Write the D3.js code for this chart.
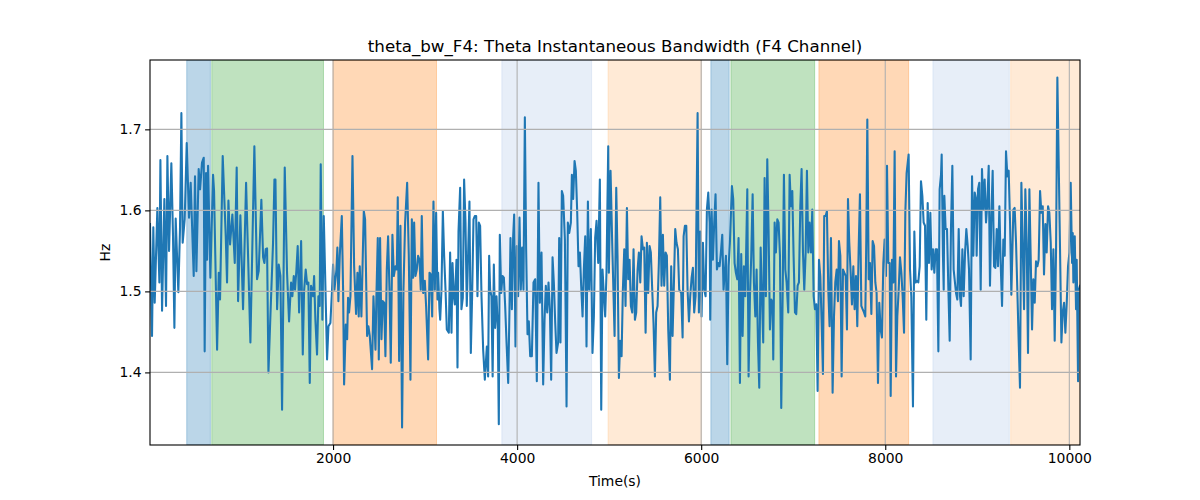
<!DOCTYPE html>
<html>
<head>
<meta charset="utf-8">
<script src="https://cdn.jsdelivr.net/npm/d3@7"></script>
<style>
  html, body { margin: 0; padding: 0; background: #fff; }
  svg { display: block; font-family: "DejaVu Sans", sans-serif; }
</style>
</head>
<body>
<svg id="chart" width="1200" height="500"></svg>
<script>
// ---- data ----
const time = [
  11,33,47,62,91,113,124,142,167,185,200,218,243,261,276,290,319,337,352,366,388,410,435,453,486,500,515,540,555,576,595,605,620,631,642,667,696,707,740,758,772,801,834,848,863,881,906,932,953,968,993,1022,1055,1102,1145,1174,1192,1221,1240,
  1254,1268,1283,1298,1319,1348,1363,1374,1392,1410,1428,1446,1475,1500,1522,1544,1558,1573,1587,1602,1616,1631,1653,1671,1685,1703,1718,1732,1747,1761,1783,1794,1808,1826,1841,1855,1866,1884,1899,1913,1935,1950,1971,1989,2000,2015,2037,2047,2058,2073,2095,2109,2120,2138,2153,2163,2174,2189,2211,2229,2250,2265,2279,2290,2308,2334,2348,2370,2384,2399,2424,2439,2461,2471,2486,
  2497,2511,2526,2540,2555,2569,2584,2598,2613,2627,2645,2660,2678,2693,2703,2718,2732,2750,2765,2783,2805,2823,2841,2856,2870,2881,2895,2910,2924,2939,2953,2964,2979,2997,3011,3033,3048,3062,3077,3091,3106,3120,3135,3142,3156,3164,3178,3193,3207,3222,3236,3258,3272,3287,3298,3312,3323,3341,3352,3363,3381,3395,3410,3424,3439,3453,3468,3482,3497,3511,3526,3540,3555,3569,3584,3598,3613,3631,3649,3671,3685,3696,3707,3721,3734,
  3747,3761,3776,3790,3801,3812,3827,3841,3856,3870,3885,3903,3917,3928,3943,3957,3968,3982,3997,4011,4026,4040,4055,4069,4084,4098,4113,4127,4142,4160,4178,4196,4214,4232,4247,4265,4283,4298,4312,4327,4341,4356,4370,4385,4399,4414,4428,4446,4457,4471,4486,4500,4519,4537,4551,4566,4584,4595,4609,4624,4638,4653,4667,4682,4696,4711,4725,4740,4754,4769,4783,4801,4819,4834,4848,4863,4881,4899,4914,4928,4943,4957,4971,4990,
  4997,5015,5033,5059,5077,5091,5106,5120,5135,5149,5164,5178,5193,5207,5222,5236,5251,5265,5280,5294,5309,5323,5338,5352,5367,5381,5396,5410,5424,5439,5453,5468,5482,5497,5511,5526,5540,5555,5569,5584,5598,5613,5627,5642,5660,5674,5689,5703,5718,5732,5747,5761,5783,5798,5809,5823,5838,5852,5867,5881,5896,5910,5924,5939,5961,5975,5990,6004,6019,6033,6048,6062,6077,6091,6098,6113,6127,6142,6156,6171,6185,6200,6214,6229,6243,
  6269,6283,6298,6312,6334,6348,6363,6377,6392,6406,6421,6435,6450,6464,6479,6486,6501,6515,6530,6544,6559,6573,6588,6602,6617,6631,6646,6660,6674,6689,6703,6718,6732,6747,6761,6776,6783,6798,6812,6827,6841,6856,6870,6885,6899,6914,6928,6946,6961,6975,6990,7004,7019,7033,7048,7062,7077,7091,7106,7120,7135,7149,7164,7178,7193,7207,7222,7236,7251,7265,7280,7294,7309,7323,7337,7352,7366,7381,7395,7410,7428,7443,7457,7472,7486,
  7497,7512,7526,7541,7555,7570,7584,7595,7609,7624,7638,7653,7667,7682,7696,7711,7725,7740,7754,7769,7783,7794,7805,7820,7834,7849,7863,7878,7892,7906,7921,7935,7950,7964,7979,7993,8008,8019,8033,8048,8059,8073,8088,8102,8117,8131,8146,8160,8175,8189,8204,8218,8232,8254,8269,8283,8301,8316,8330,8345,8359,8374,8388,8403,8417,8432,8446,8461,8475,8490,8504,8519,8533,8548,8562,8577,8591,8606,8613,8627,8635,8642,8656,8671,8685,8700,8714,8729,8743,
  8769,8783,8798,8812,8823,8838,8852,8867,8881,8896,8910,8928,8943,8957,8972,8986,8993,9008,9022,9037,9051,9066,9080,9095,9109,9124,9138,9153,9167,9182,9196,9211,9225,9240,9254,9269,9283,9298,9312,9327,9341,9356,9370,9392,9406,9421,9435,9450,9464,9479,9493,9508,9522,9537,9551,9566,9580,9595,9609,9624,9638,9653,9667,9682,9696,9711,9725,9740,9754,9769,9783,9798,9812,9827,9841,9856,9870,9885,9899,9914,9928,9943,9957,9972,9986,10001,10015,10030,10037,10044,10059,10073,10080,10095,10102,10116
];
const hz = [
  1.583,1.445,1.579,1.486,1.603,1.511,1.662,1.476,1.614,1.482,1.667,1.550,1.658,1.568,1.455,1.590,1.499,1.577,1.720,1.560,1.589,1.683,1.591,1.634,1.519,1.642,1.525,1.651,1.626,1.659,1.665,1.426,1.646,1.539,1.655,1.517,1.644,1.624,1.428,1.523,1.490,1.667,1.568,1.511,1.612,1.558,1.595,1.535,1.653,1.488,1.594,1.478,1.634,1.437,1.679,1.515,1.525,1.613,1.542,
  1.535,1.552,1.553,1.400,1.469,1.560,1.638,1.638,1.478,1.533,1.519,1.354,1.653,1.523,1.463,1.511,1.494,1.519,1.502,1.527,1.556,1.474,1.562,1.422,1.500,1.527,1.509,1.511,1.387,1.507,1.494,1.519,1.465,1.422,1.494,1.482,1.657,1.465,1.593,1.525,1.416,1.457,1.461,1.502,1.533,1.502,1.527,1.554,1.488,1.544,1.593,1.502,1.385,1.459,1.441,1.492,1.474,1.494,1.667,1.531,1.472,1.523,1.469,1.531,1.469,1.599,1.589,1.445,1.457,1.445,1.404,1.494,1.428,1.494,1.566,
  1.416,1.566,1.441,1.488,1.486,1.420,1.527,1.568,1.502,1.412,1.570,1.519,1.531,1.527,1.616,1.414,1.581,1.332,1.502,1.585,1.634,1.544,1.391,1.589,1.517,1.585,1.519,1.527,1.544,1.539,1.502,1.593,1.498,1.513,1.482,1.416,1.523,1.521,1.469,1.611,1.502,1.597,1.490,1.523,1.478,1.465,1.502,1.599,1.544,1.502,1.453,1.449,1.548,1.449,1.535,1.494,1.484,1.539,1.406,1.574,1.628,1.478,1.492,1.638,1.585,1.482,1.548,1.611,1.424,1.494,1.589,1.593,1.593,1.494,1.585,1.581,1.494,1.428,1.391,1.432,1.395,1.544,1.502,1.494,1.395,
  1.533,1.455,1.494,1.455,1.336,1.570,1.498,1.519,1.517,1.482,1.437,1.387,1.478,1.566,1.478,1.568,1.595,1.432,1.556,1.494,1.591,1.502,1.554,1.502,1.715,1.552,1.447,1.463,1.420,1.420,1.511,1.515,1.389,1.634,1.486,1.548,1.385,1.465,1.507,1.474,1.511,1.478,1.391,1.542,1.511,1.461,1.424,1.437,1.566,1.437,1.624,1.618,1.564,1.358,1.585,1.572,1.585,1.644,1.614,1.661,1.649,1.597,1.531,1.548,1.507,1.469,1.527,1.568,1.432,1.611,1.502,1.577,1.424,1.469,1.566,1.587,1.535,1.638,1.354,1.527,1.494,1.469,1.523,1.679,
  1.523,1.649,1.560,1.445,1.628,1.544,1.393,1.439,1.420,1.502,1.552,1.482,1.603,1.515,1.539,1.482,1.474,1.552,1.465,1.474,1.527,1.548,1.511,1.568,1.552,1.554,1.449,1.560,1.498,1.556,1.548,1.502,1.461,1.395,1.474,1.482,1.535,1.616,1.507,1.570,1.507,1.548,1.544,1.453,1.391,1.531,1.445,1.507,1.577,1.560,1.552,1.502,1.498,1.443,1.568,1.581,1.581,1.502,1.463,1.494,1.517,1.529,1.474,1.494,1.720,1.474,1.574,1.469,1.560,1.502,1.494,1.601,1.622,1.585,1.465,1.601,1.539,1.585,1.620,1.527,1.535,1.531,1.548,1.570,1.502,
  1.544,1.410,1.531,1.560,1.630,1.614,1.535,1.523,1.515,1.566,1.387,1.546,1.445,1.531,1.494,1.533,1.626,1.395,1.494,1.544,1.620,1.511,1.469,1.527,1.437,1.381,1.554,1.494,1.437,1.640,1.494,1.663,1.577,1.453,1.490,1.486,1.416,1.585,1.548,1.589,1.585,1.544,1.356,1.494,1.644,1.527,1.511,1.474,1.644,1.605,1.624,1.544,1.474,1.472,1.507,1.511,1.605,1.651,1.548,1.502,1.548,1.649,1.548,1.585,1.548,1.601,1.494,1.478,1.484,1.377,1.539,1.519,1.461,1.398,1.593,1.593,1.599,1.502,1.457,1.566,1.375,1.469,1.511,1.527,1.488,
  1.562,1.544,1.395,1.527,1.523,1.519,1.453,1.614,1.560,1.523,1.484,1.531,1.478,1.519,1.457,1.552,1.620,1.482,1.478,1.474,1.469,1.564,1.712,1.515,1.535,1.472,1.562,1.556,1.511,1.498,1.387,1.486,1.453,1.443,1.535,1.564,1.519,1.655,1.535,1.535,1.371,1.539,1.511,1.673,1.395,1.469,1.502,1.542,1.523,1.494,1.449,1.597,1.646,1.669,1.527,1.494,1.358,1.574,1.511,1.513,1.511,1.531,1.636,1.618,1.585,1.581,1.465,1.609,1.535,1.597,1.527,1.552,1.523,1.552,1.552,1.426,1.626,1.644,1.669,1.544,1.502,1.618,1.577,1.577,1.507,1.439,1.577,1.655,1.527,
  1.498,1.490,1.577,1.494,1.482,1.552,1.494,1.548,1.577,1.556,1.527,1.416,1.642,1.544,1.622,1.614,1.544,1.626,1.634,1.502,1.651,1.601,1.638,1.585,1.609,1.655,1.507,1.593,1.649,1.531,1.529,1.577,1.531,1.605,1.535,1.482,1.564,1.544,1.673,1.642,1.649,1.585,1.496,1.601,1.603,1.560,1.502,1.437,1.381,1.634,1.560,1.478,1.626,1.560,1.424,1.626,1.544,1.453,1.515,1.486,1.537,1.531,1.539,1.624,1.597,1.605,1.521,1.583,1.548,1.605,1.597,1.560,1.478,1.552,1.439,1.552,1.764,1.655,1.552,1.437,1.474,1.486,1.449,1.486,1.531,1.548,1.634,1.535,1.572,1.511,1.568,1.478,1.539,1.389,1.502,1.507
];
// shaded segments (start, end in seconds) and their segment label
const spanStart = [410, 682, 2000, 3834, 4988, 6105, 6323, 7279, 8518, 9363];
const spanEnd   = [667, 1896, 3124, 4809, 6004, 6304, 7233, 8254, 9348, 10130];
const spanLabel = ["A", "B", "C", "D", "E", "A", "B", "C", "D", "E"];
const xTicks = [2000, 4000, 6000, 8000, 10000];
const yTicks = [1.4, 1.5, 1.6, 1.7];
const titleText = "theta_bw_F4: Theta Instantaneous Bandwidth (F4 Channel)";
const xLabel = "Time(s)";
const yLabel = "Hz";

// ---- drawing ----
const W = 1200, H = 500;
const m = { left: 150, right: 120, top: 60, bottom: 55 };
const svg = d3.select("#chart");
const iw = W - m.left - m.right, ih = H - m.top - m.bottom;

const x = d3.scaleLinear().domain([11, 10116]).range([m.left, m.left + iw]);
const yMin = d3.min(hz), yMax = d3.max(hz), pad = (yMax - yMin) * 0.05;
const y = d3.scaleLinear().domain([yMin - pad, yMax + pad]).range([m.top + ih, m.top]);

const spanStyle = {
  A: { color: "#1f77b4", op: 0.3 },
  B: { color: "#2ca02c", op: 0.3 },
  C: { color: "#ff7f0e", op: 0.3 },
  D: { color: "#aec7e8", op: 0.3 },
  E: { color: "#ffbb78", op: 0.3 }
};

svg.append("defs").append("clipPath").attr("id", "clip")
  .append("rect").attr("x", m.left).attr("y", m.top).attr("width", iw).attr("height", ih);

const plot = svg.append("g").attr("clip-path", "url(#clip)");

plot.selectAll("rect.span").data(spanStart.map((s, i) => ({ s, e: spanEnd[i], k: spanLabel[i] })))
  .enter().append("rect")
  .attr("x", d => x(d.s)).attr("width", d => x(d.e) - x(d.s))
  .attr("y", m.top).attr("height", ih)
  .attr("fill", d => spanStyle[d.k].color).attr("fill-opacity", d => spanStyle[d.k].op)
  .attr("stroke", d => spanStyle[d.k].color).attr("stroke-opacity", d => spanStyle[d.k].op)
  .attr("stroke-width", 1);

// grid
const grid = svg.append("g");
grid.selectAll("line.gx").data(xTicks).enter().append("line")
  .attr("x1", d => x(d)).attr("x2", d => x(d)).attr("y1", m.top).attr("y2", m.top + ih)
  .attr("stroke", "#b0b0b0").attr("stroke-width", 1.1);
grid.selectAll("line.gy").data(yTicks).enter().append("line")
  .attr("x1", m.left).attr("x2", m.left + iw).attr("y1", d => y(d)).attr("y2", d => y(d))
  .attr("stroke", "#b0b0b0").attr("stroke-width", 1.1);

// line
const pts = time.map((t, i) => [t, hz[i]]);
plot.append("path").datum(pts)
  .attr("fill", "none").attr("stroke", "#1f77b4").attr("stroke-width", 2.08)
  .attr("stroke-linejoin", "round").attr("stroke-linecap", "square")
  .attr("d", d3.line().x(d => x(d[0])).y(d => y(d[1])));

// axes
const xAxis = d3.axisBottom(x).tickValues(xTicks).tickFormat(d3.format("d")).tickSize(4.9).tickPadding(3.5);
const yAxis = d3.axisLeft(y).tickValues(yTicks).tickFormat(d3.format(".1f")).tickSize(4.9).tickPadding(3.5);
const gx = svg.append("g").attr("transform", `translate(0,${m.top + ih})`).call(xAxis);
const gy = svg.append("g").attr("transform", `translate(${m.left},0)`).call(yAxis);
[gx, gy].forEach(g => {
  g.select(".domain").remove();
  g.selectAll("text").attr("font-family", "DejaVu Sans").attr("font-size", "13.9px").attr("fill", "#000");
  g.selectAll("line").attr("stroke", "#000").attr("stroke-width", 1.1);
});

// spines
svg.append("rect").attr("x", m.left).attr("y", m.top).attr("width", iw).attr("height", ih)
  .attr("fill", "none").attr("stroke", "#000").attr("stroke-width", 1.1);

// labels
svg.append("text").attr("x", m.left + iw / 2).attr("y", 52).attr("text-anchor", "middle")
  .attr("font-size", "16.7px").attr("fill", "#000").text(titleText);
svg.append("text").attr("x", m.left + iw / 2).attr("y", 486).attr("text-anchor", "middle")
  .attr("font-size", "13.9px").attr("fill", "#000").text(xLabel);
svg.append("text").attr("transform", `translate(110,${m.top + ih / 2}) rotate(-90)`)
  .attr("text-anchor", "middle").attr("font-size", "13.9px").attr("fill", "#000").text(yLabel);
</script>
</body>
</html>
